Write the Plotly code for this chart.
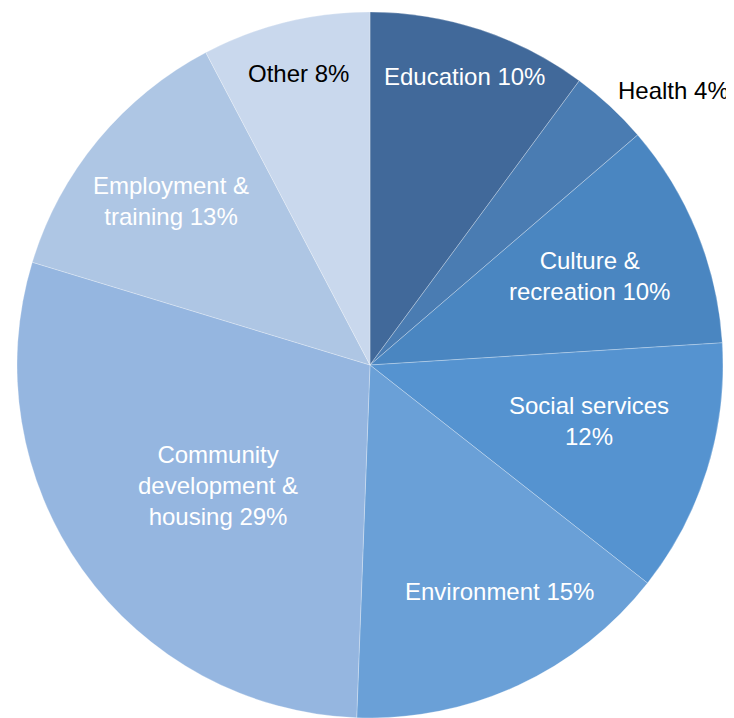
import math
import plotly.graph_objects as go

# Data (clockwise from 12 o'clock)
categories = ["Education", "Health", "Culture & recreation", "Social services",
              "Environment", "Community development & housing",
              "Employment & training", "Other"]
values = [10.1, 3.6, 10.3, 11.6, 15.0, 29.1, 12.6, 7.7]
label_texts = ["Education 10%", "Health 4%", "Culture &<br>recreation 10%",
               "Social services<br>12%", "Environment 15%",
               "Community<br>development &<br>housing 29%",
               "Employment &<br>training 13%", "Other 8%"]

# Styles
colors = ["#41699a", "#4a7cb2", "#4a86c1", "#5593d0", "#6aa0d7",
          "#95b6e0", "#aec6e4", "#c9d8ed"]
text_colors = ["white", "black", "white", "white", "white", "white", "white", "black"]
label_radius = [0.86, 1.16, 0.67, 0.64, 0.74, 0.55, 0.73, 0.85]
label_angle_shift = [0, 5, 0, -3, -5, -3, 0, 0]

# The page body adds an 8px margin, so the figure is slightly smaller than the window
W, H = 726, 710
dom_x = [9 / W, 715 / W]
dom_y = [0.0, 706 / H]

fig = go.Figure(go.Pie(
    labels=categories,
    values=values,
    sort=False,
    direction="clockwise",
    rotation=0,
    textinfo="none",
    hoverinfo="label+percent",
    marker=dict(colors=colors, line=dict(color="rgba(255,255,255,0.45)", width=0.6)),
    domain=dict(x=dom_x, y=dom_y),
    showlegend=False,
))

# Label placement computed from the pie geometry
cx = (dom_x[0] + dom_x[1]) / 2 * W
cy_up = (dom_y[0] + dom_y[1]) / 2 * H
R = min((dom_x[1] - dom_x[0]) * W, (dom_y[1] - dom_y[0]) * H) / 2
total = sum(values)
cum = 0.0
annotations = []
for v, txt, tc, rf, sh in zip(values, label_texts, text_colors,
                              label_radius, label_angle_shift):
    mid = (cum + v / 2) / total * 360 + sh
    cum += v
    th = math.radians(mid)
    x = cx + rf * R * math.sin(th)
    y = cy_up + rf * R * math.cos(th)
    annotations.append(dict(
        x=x / W, y=y / H, xref="paper", yref="paper",
        text=txt, showarrow=False, xanchor="center", yanchor="middle",
        align="center",
        font=dict(family="Liberation Sans, Arial, sans-serif", size=24, color=tc),
    ))

fig.update_layout(
    width=W, height=H,
    margin=dict(l=0, r=0, t=0, b=0),
    paper_bgcolor="white",
    plot_bgcolor="white",
    annotations=annotations,
)

fig.write_html("out.html")
